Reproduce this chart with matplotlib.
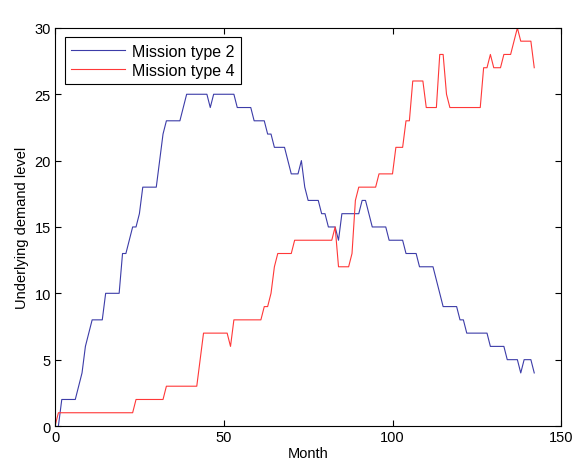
import numpy as np
from matplotlib import pyplot as plt

plt.rcParams['font.family'] = ['Liberation Sans', 'DejaVu Sans']

# mission type 2, months 1..142
months_2 = np.arange(1, 143)
demand_2 = [0, 2, 2, 2, 2, 2, 3, 4, 6, 7,
            8, 8, 8, 8, 10, 10, 10, 10, 10, 13,
            13, 14, 15, 15, 16, 18, 18, 18, 18, 18,
            20, 22, 23, 23, 23, 23, 23, 24, 25, 25,
            25, 25, 25, 25, 25, 24, 25, 25, 25, 25,
            25, 25, 25, 24, 24, 24, 24, 24, 23, 23,
            23, 23, 22, 22, 21, 21, 21, 21, 20, 19,
            19, 19, 20, 18, 17, 17, 17, 17, 16, 16,
            15, 15, 15, 14, 16, 16, 16, 16, 16, 16,
            17, 17, 16, 15, 15, 15, 15, 15, 14, 14,
            14, 14, 14, 13, 13, 13, 13, 12, 12, 12,
            12, 12, 11, 10, 9, 9, 9, 9, 9, 8,
            8, 7, 7, 7, 7, 7, 7, 7, 6, 6,
            6, 6, 6, 5, 5, 5, 5, 4, 5, 5,
            5, 4]

# mission type 4, months 0..142
months_4 = np.arange(0, 143)
demand_4 = [0, 1, 1, 1, 1, 1, 1, 1, 1, 1,
            1, 1, 1, 1, 1, 1, 1, 1, 1, 1,
            1, 1, 1, 1, 2, 2, 2, 2, 2, 2,
            2, 2, 2, 3, 3, 3, 3, 3, 3, 3,
            3, 3, 3, 5, 7, 7, 7, 7, 7, 7,
            7, 7, 6, 8, 8, 8, 8, 8, 8, 8,
            8, 8, 9, 9, 10, 12, 13, 13, 13, 13,
            13, 14, 14, 14, 14, 14, 14, 14, 14, 14,
            14, 14, 14, 15, 12, 12, 12, 12, 13, 17,
            18, 18, 18, 18, 18, 18, 19, 19, 19, 19,
            19, 21, 21, 21, 23, 23, 26, 26, 26, 26,
            24, 24, 24, 24, 28, 28, 25, 24, 24, 24,
            24, 24, 24, 24, 24, 24, 24, 27, 27, 28,
            27, 27, 27, 28, 28, 28, 29, 30, 29, 29,
            29, 29, 27]

fig = plt.figure(figsize=(5.72, 4.64), dpi=100)
ax = fig.add_axes([0.0962, 0.0797, 0.885, 0.858])

ax.plot(months_2, demand_2, color='#3c3ca8', linewidth=0.8, label='Mission type 2')
ax.plot(months_4, demand_4, color='#ff3838', linewidth=0.8, label='Mission type 4')

ax.set_xlim(0, 150)
ax.set_ylim(0, 30)
ax.set_xticks([0, 50, 100, 150])
ax.set_yticks([0, 5, 10, 15, 20, 25, 30])
ax.tick_params(direction='in', top=True, right=True, labelsize=10.5, length=4, pad=3)
ax.set_xlabel('Month', fontsize=10.5, labelpad=1)
ax.set_ylabel('Underlying demand level', fontsize=10.5, labelpad=4)

leg = ax.legend(loc='upper left', fontsize=11.5, fancybox=False, edgecolor='black',
                framealpha=1, borderpad=0.4, handlelength=3.4, handletextpad=0.4,
                labelspacing=0.25, borderaxespad=0.6)
leg.get_frame().set_linewidth(0.8)

fig.savefig('out.png', dpi=100)
